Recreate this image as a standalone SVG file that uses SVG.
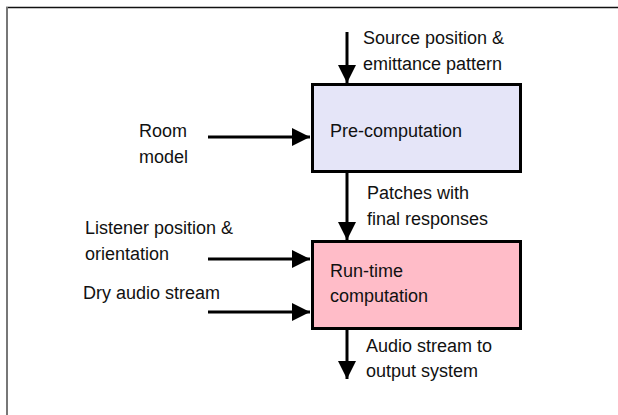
<svg xmlns="http://www.w3.org/2000/svg" width="618" height="415" viewBox="0 0 618 415">
<style>
text{font-family:"Liberation Sans",Arial,Helvetica,sans-serif;font-size:18px;fill:#111}
.box{stroke:#000;stroke-width:3}
.conn{stroke:#000;stroke-width:3;fill:none}
</style>
<defs>
<marker id="ah" viewBox="0 0 10 10" refX="10" refY="5" markerWidth="6" markerHeight="6" orient="auto" markerUnits="strokeWidth">
<path d="M0,0L10,5L0,10Z" fill="#000"/>
</marker>
</defs>
<rect width="618" height="415" fill="#fff"/>
<g id="frame">
<line x1="6" y1="7.5" x2="618" y2="7.5" stroke="#111" stroke-width="1.5"/>
<line x1="7" y1="7" x2="7" y2="415" stroke="#777" stroke-width="2"/>
</g>
<g id="connectors">
<line class="conn" x1="347" y1="32" x2="347" y2="83" marker-end="url(#ah)"/>
<line class="conn" x1="208" y1="137" x2="310" y2="137" marker-end="url(#ah)"/>
<line class="conn" x1="347" y1="173" x2="347" y2="240" marker-end="url(#ah)"/>
<line class="conn" x1="208" y1="259" x2="310" y2="259" marker-end="url(#ah)"/>
<line class="conn" x1="208" y1="312" x2="310" y2="312" marker-end="url(#ah)"/>
<line class="conn" x1="347" y1="330" x2="347" y2="379" marker-end="url(#ah)"/>
</g>
<g id="pre">
<rect class="box" x="312.5" y="84.5" width="208" height="87" fill="#E5E5F8"/>
<text x="330" y="137">Pre-computation</text>
</g>
<g id="runtime">
<rect class="box" x="312.5" y="241.5" width="208" height="87" fill="#FFBCC8"/>
<text x="330" y="277">Run-time</text>
<text x="330" y="302">computation</text>
</g>
<g id="labels">
<text x="363" y="44">Source position &amp;</text>
<text x="363" y="70">emittance pattern</text>
<text x="139" y="137">Room</text>
<text x="139" y="163">model</text>
<text x="367" y="199">Patches with</text>
<text x="367" y="225">final responses</text>
<text x="85" y="234">Listener position &amp;</text>
<text x="85" y="260">orientation</text>
<text x="83" y="299">Dry audio stream</text>
<text x="366" y="352">Audio stream to</text>
<text x="366" y="377">output system</text>
</g>
</svg>
